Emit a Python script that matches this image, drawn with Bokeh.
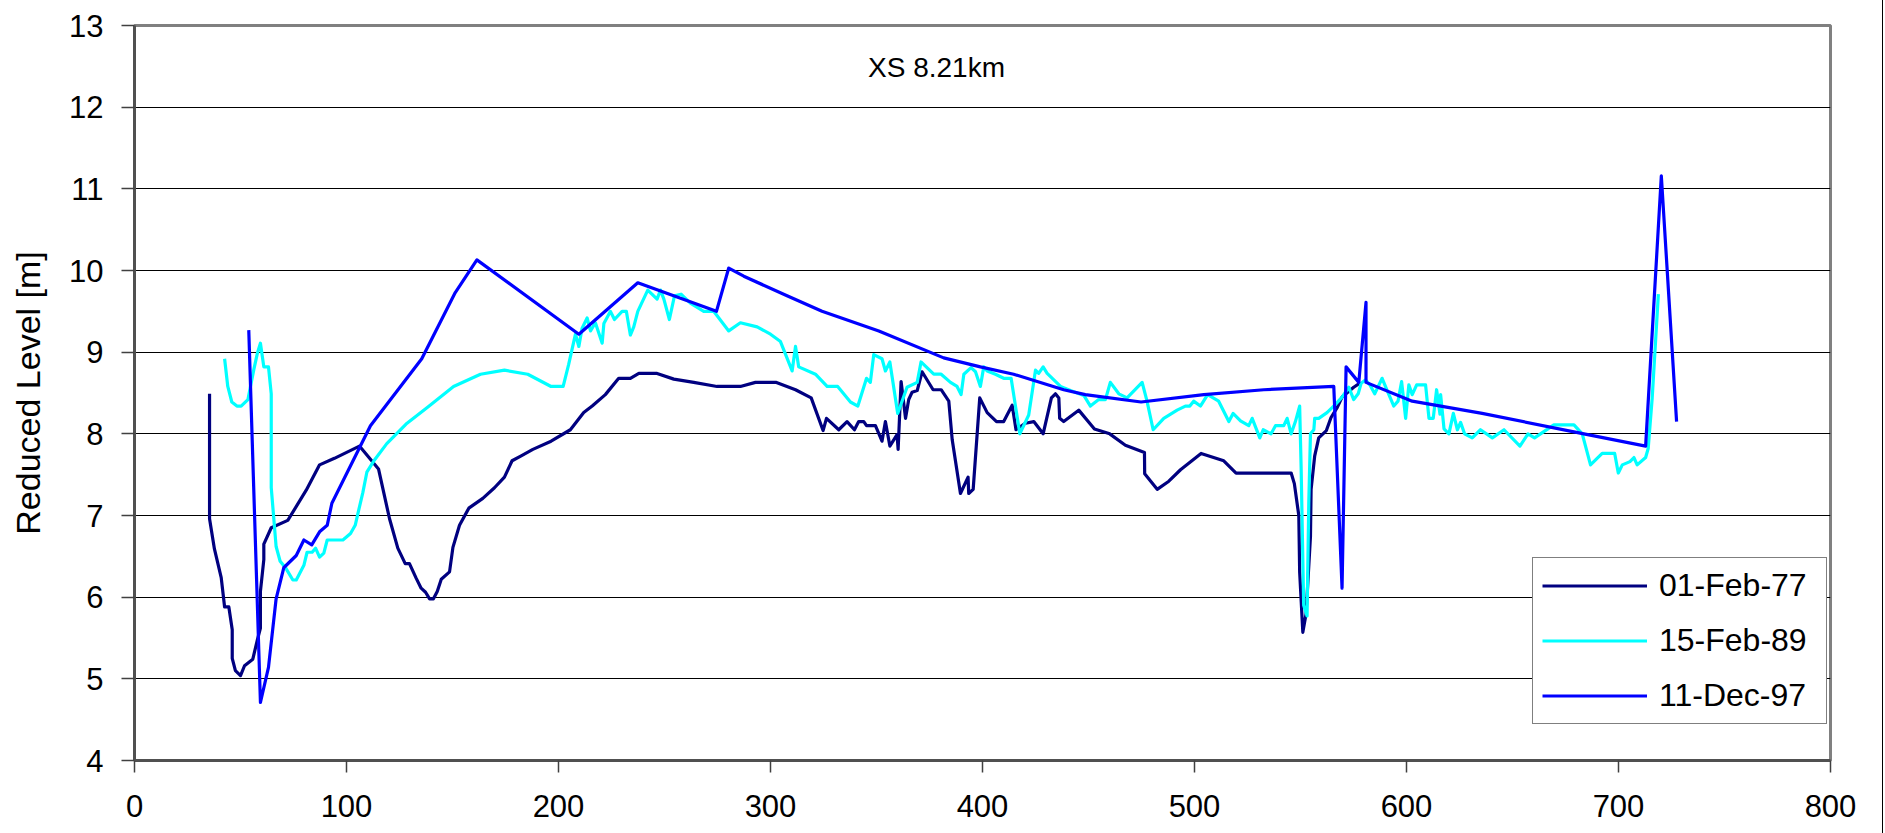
from bokeh.plotting import figure
from bokeh.models import FixedTicker, Legend, LegendItem, Label, Range1d
from bokeh.embed import file_html
from bokeh.resources import INLINE

# ---------------- data ----------------
series_labels = ["01-Feb-77", "15-Feb-89", "11-Dec-97"]

x_feb77 = [35.4, 35.4, 37.7, 40.9, 42.5, 44.5, 46.1, 46.1, 47.6, 50.0, 51.9, 55.8, 57.9,
           59.4, 59.4, 61.0, 61.0, 64.5, 72.3, 81.0, 87.3, 94.3, 106.1, 115.1, 120.3,
           124.2, 127.7, 129.7, 132.9, 135.2, 137.3, 139.2, 141.0, 142.8, 144.7, 148.6,
           150.2, 153.3, 157.7, 164.3, 169.8, 174.5, 178.1, 182.4, 187.9, 196.5, 205.6,
           211.9, 215.9, 222.1, 228.4, 233.9, 237.9, 246.5, 254.4, 263.8, 274.8, 285.8,
           292.9, 302.8, 311.8, 319.2, 324.8, 326.4, 332.2, 336.1, 339.6, 341.6, 344.0,
           345.3, 349.5, 352.6, 354.2, 356.3, 359.7, 360.2, 361.6, 363.7, 365.2, 366.8,
           369.2, 371.5, 376.7, 380.5, 384.1, 385.7, 389.6, 393.2, 393.5, 395.6, 398.7,
           402.2, 406.6, 410.0, 414.0, 415.8, 420.2, 424.2, 428.6, 432.5, 434.4, 436.0,
           436.4, 438.3, 445.4, 452.8, 460.0, 467.4, 476.4, 476.5, 482.4, 487.9, 493.4,
           503.1, 513.8, 519.6, 527.2, 545.6, 547.1, 549.2, 549.6, 551.1, 552.6, 554.7,
           555.0, 556.7, 558.6, 562.2, 564.4, 567.3, 569.6, 575.1, 578.0]
y_feb77 = [8.49, 6.96, 6.59, 6.24, 5.88, 5.88, 5.60, 5.25, 5.10, 5.04, 5.16, 5.24, 5.47,
           5.62, 6.07, 6.46, 6.65, 6.85, 6.94, 7.31, 7.62, 7.70, 7.85, 7.57, 6.96,
           6.60, 6.41, 6.41, 6.23, 6.11, 6.06, 5.98, 5.98, 6.07, 6.22, 6.31,
           6.61, 6.88, 7.09, 7.21, 7.34, 7.47, 7.67, 7.73, 7.81, 7.91, 8.05,
           8.26, 8.34, 8.48, 8.68, 8.68, 8.74, 8.74, 8.67, 8.63, 8.58, 8.58,
           8.63, 8.63, 8.54, 8.44, 8.04, 8.19, 8.05, 8.15, 8.05, 8.15, 8.15,
           8.10, 8.10, 7.91, 8.15, 7.85, 7.99, 7.81, 8.64, 8.19, 8.42, 8.51,
           8.53, 8.76, 8.54, 8.54, 8.40, 7.93, 7.27, 7.47, 7.27, 7.32, 8.44,
           8.26, 8.15, 8.15, 8.35, 8.05, 8.13, 8.15, 8.00, 8.44, 8.49, 8.44,
           8.19, 8.15, 8.29, 8.06, 8.00, 7.86, 7.77, 7.51, 7.32, 7.42, 7.56,
           7.76, 7.67, 7.52, 7.52, 7.52, 7.39, 7.00, 6.31, 5.57, 5.79, 6.74,
           7.32, 7.73, 7.95, 8.04, 8.20, 8.32, 8.45, 8.57, 8.62]

x_feb89 = [42.5, 44.0, 45.9, 48.3, 50.3, 53.5, 56.3, 57.9, 59.4, 61.0, 63.2, 64.5, 64.5,
           66.8, 68.7, 71.5, 74.7, 76.3, 79.9, 81.4, 83.8, 85.4, 87.3, 89.3, 90.9, 98.3,
           101.9, 104.1, 105.7, 107.7, 109.6, 113.2, 119.0, 128.1, 138.4, 150.5, 163.2,
           174.5, 185.5, 196.5, 202.2, 204.8, 208.0, 209.6, 211.1, 213.5, 215.1, 217.4,
           220.6, 221.4, 224.5, 226.4, 230.0, 232.0, 233.9, 235.5, 237.4, 242.1, 246.5,
           248.1, 249.7, 252.3, 254.7, 257.8, 262.2, 268.5, 273.2, 280.3, 285.8, 293.7,
           300.0, 304.7, 310.2, 311.8, 313.3, 321.2, 326.7, 331.7, 337.7, 341.2, 345.3,
           347.1, 348.7, 352.6, 354.2, 356.3, 360.0, 364.4, 369.2, 371.0, 377.0, 380.5,
           384.9, 388.0, 389.9, 391.2, 394.6, 396.7, 399.0, 400.6, 402.2, 406.1, 410.0,
           413.5, 417.6, 421.8, 425.0, 426.5, 428.6, 430.5, 436.8, 441.5, 447.8, 450.9,
           454.8, 458.0, 460.3, 464.3, 468.2, 475.3, 477.6, 480.5, 485.5, 491.8, 495.7,
           497.8, 499.6, 502.8, 506.2, 511.4, 516.2, 518.2, 521.7, 525.6, 527.2, 530.8,
           532.4, 536.1, 538.2, 542.1, 543.7, 545.6, 547.6, 549.6, 550.3, 551.5, 553.1,
           553.9, 554.7, 556.3, 556.7, 558.6, 562.5, 566.5, 569.6, 572.8, 575.1, 577.2,
           578.6, 580.6, 582.7, 585.0, 588.5, 590.9, 594.0, 596.0, 597.7, 599.6, 601.1,
           602.7, 604.8, 609.0, 610.6, 612.6, 614.2, 615.8, 616.1, 617.7, 620.0, 622.1,
           624.0, 625.5, 627.4, 631.0, 634.9, 640.5, 646.0, 653.5, 657.3, 660.4, 669.5,
           679.0, 682.9, 686.8, 692.3, 698.2, 699.9, 701.8, 705.4, 707.3, 708.8, 712.8,
           714.0, 715.9, 717.5, 718.8]
y_feb89 = [8.92, 8.58, 8.39, 8.34, 8.34, 8.42, 8.79, 8.98, 9.11, 8.82, 8.82, 8.49, 7.34,
           6.62, 6.44, 6.35, 6.21, 6.21, 6.39, 6.55, 6.55, 6.60, 6.49, 6.54, 6.70, 6.70,
           6.78, 6.88, 7.06, 7.28, 7.53, 7.68, 7.88, 8.12, 8.33, 8.58, 8.73,
           8.78, 8.73, 8.58, 8.58, 8.85, 9.22, 9.07, 9.29, 9.42, 9.26, 9.36,
           9.11, 9.35, 9.50, 9.40, 9.50, 9.50, 9.21, 9.31, 9.50, 9.76, 9.65,
           9.76, 9.65, 9.40, 9.69, 9.71, 9.60, 9.50, 9.50, 9.26, 9.36, 9.31,
           9.22, 9.13, 8.77, 9.07, 8.82, 8.73, 8.58, 8.58, 8.39, 8.34, 8.68,
           8.63, 8.97, 8.92, 8.77, 8.88, 8.25, 8.57, 8.63, 8.88, 8.73, 8.73,
           8.63, 8.58, 8.48, 8.73, 8.81, 8.76, 8.58, 8.82, 8.77, 8.73, 8.68,
           8.68, 8.00, 8.23, 8.78, 8.74, 8.82, 8.74, 8.58, 8.53, 8.47, 8.34,
           8.42, 8.42, 8.63, 8.49, 8.44, 8.63, 8.40, 8.05, 8.19, 8.29, 8.34,
           8.34, 8.40, 8.34, 8.48, 8.40, 8.15, 8.25, 8.16, 8.10, 8.19, 7.95,
           8.05, 8.00, 8.10, 8.10, 8.19, 8.00, 8.15, 8.34, 7.58, 5.90, 5.77,
           7.15, 8.00, 8.05, 8.19, 8.19, 8.26, 8.36, 8.45, 8.57, 8.42, 8.49,
           8.62, 8.66, 8.60, 8.49, 8.68, 8.53, 8.34, 8.40, 8.64, 8.19, 8.60,
           8.48, 8.60, 8.60, 8.19, 8.19, 8.54, 8.24, 8.48, 8.06, 8.00, 8.25,
           8.05, 8.14, 8.00, 7.95, 8.05, 7.95, 8.05, 7.85, 8.00, 7.95, 8.11,
           8.11, 8.00, 7.62, 7.76, 7.76, 7.52, 7.62, 7.66, 7.71, 7.62, 7.71,
           7.82, 8.44, 9.14, 9.71]

x_dec97 = [53.9, 59.4, 63.2, 66.8, 70.4, 76.3, 79.9, 83.6, 87.3, 90.9, 93.1, 111.3, 135.5,
           151.3, 161.5, 209.6, 237.4, 274.5, 280.3, 287.4, 307.8, 324.3, 351.1, 381.7,
           399.0, 414.7, 438.3, 448.5, 474.8, 504.4, 532.7, 565.7, 569.6, 571.5, 577.5,
           580.9, 580.9, 602.7, 635.7, 683.7, 712.8, 720.2, 727.4]
y_dec97 = [9.27, 4.71, 5.14, 5.98, 6.36, 6.51, 6.70, 6.64, 6.80, 6.88, 7.15, 8.10, 8.92,
           9.73, 10.13, 9.22, 9.85, 9.50, 10.03, 9.93, 9.69, 9.50, 9.26, 8.93,
           8.82, 8.73, 8.54, 8.48, 8.39, 8.48, 8.54, 8.58, 6.11, 8.82, 8.63,
           9.61, 8.63, 8.40, 8.25, 8.00, 7.85, 11.16, 8.15]

x_ticks = [0, 100, 200, 300, 400, 500, 600, 700, 800]
y_ticks = [4, 5, 6, 7, 8, 9, 10, 11, 12, 13]
chart_note = "XS 8.21km"
y_title = "Reduced Level [m]"

# ---------------- figure ----------------
FONT = "Liberation Sans"

p = figure(width=1883, height=833, output_backend="svg", toolbar_location=None,
           x_range=Range1d(0, 800), y_range=Range1d(4, 13),
           min_border_left=134, min_border_right=53, min_border_top=25,
           min_border_bottom=73, background_fill_color="white",
           border_fill_color="white")
p.styles = {"border-right": "1px solid #000000"}

p.outline_line_color = "#808080"
p.outline_line_width = 3

p.xgrid.visible = False
p.ygrid.ticker = FixedTicker(ticks=y_ticks)
p.ygrid.grid_line_color = "#000000"
p.ygrid.grid_line_width = 1

for ax in (p.xaxis[0], p.yaxis[0]):
    ax.axis_line_color = "#505050"
    ax.axis_line_width = 3
    ax.major_tick_in = 0
    ax.major_tick_line_color = "#404040"
    ax.major_tick_line_width = 1.5
    ax.minor_tick_line_color = None
    ax.major_label_text_font = FONT
    ax.major_label_text_font_size = "31px"
    ax.major_label_text_color = "#000000"

p.xaxis.ticker = FixedTicker(ticks=x_ticks)
p.xaxis.major_tick_out = 12
p.xaxis.major_label_standoff = 22

p.yaxis.ticker = FixedTicker(ticks=y_ticks)
p.yaxis.major_tick_out = 13
p.yaxis.major_label_standoff = 18
p.yaxis.axis_label = y_title
p.yaxis.axis_label_text_font = FONT
p.yaxis.axis_label_text_font_size = "34px"
p.yaxis.axis_label_text_font_style = "normal"
p.yaxis.axis_label_text_color = "#000000"
p.yaxis.axis_label_standoff = 19

colors = ["#000080", "#00FFFF", "#0000FF"]
r1 = p.line(x_feb77, y_feb77, line_color=colors[0], line_width=3.2, line_join="round")
r2 = p.line(x_feb89, y_feb89, line_color=colors[1], line_width=3.2, line_join="round")
r3 = p.line(x_dec97, y_dec97, line_color=colors[2], line_width=3.2, line_join="round")

p.add_layout(Label(x=378.3, y=12.49, text=chart_note, text_align="center",
                   text_baseline="middle", text_font=FONT, text_font_size="28px",
                   text_color="#000000"))

legend = Legend(items=[LegendItem(label=series_labels[0], renderers=[r1]),
                       LegendItem(label=series_labels[1], renderers=[r2]),
                       LegendItem(label=series_labels[2], renderers=[r3])],
                location=(1398, 36), orientation="vertical",
                glyph_width=105, glyph_height=37, label_height=37, label_width=158,
                label_standoff=12, spacing=18, padding=9, margin=0,
                border_line_color="#000000", border_line_width=1,
                background_fill_color="white", background_fill_alpha=1.0,
                label_text_font=FONT, label_text_font_size="32px",
                label_text_color="#000000")
p.add_layout(legend)

open("out.html", "w").write(file_html(p, INLINE))
